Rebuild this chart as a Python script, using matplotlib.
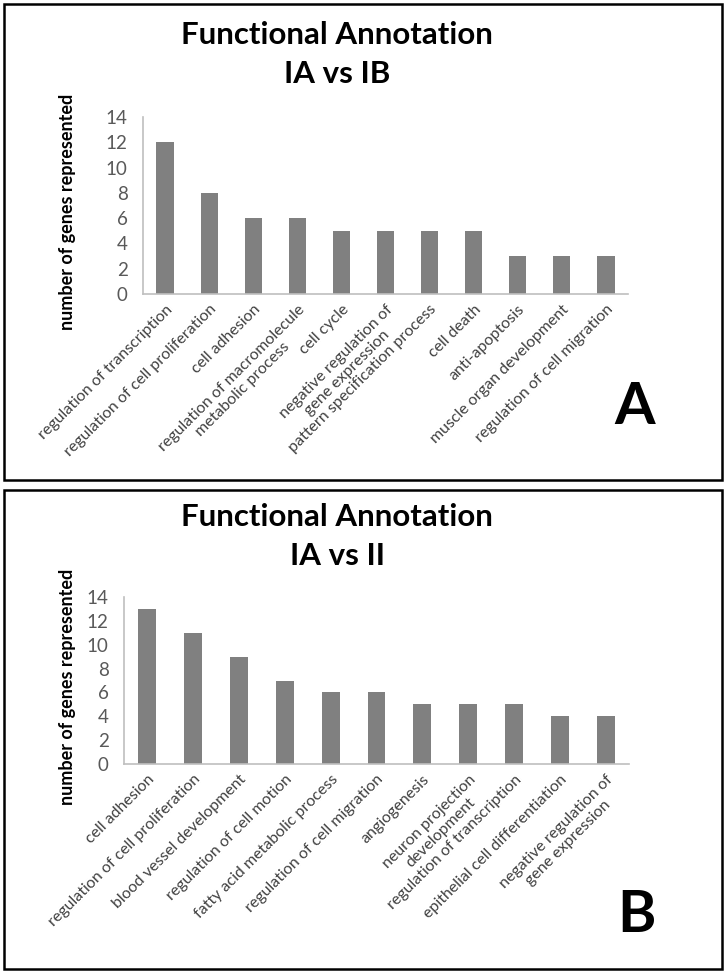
import matplotlib
matplotlib.use("Agg")
import matplotlib.pyplot as plt
from matplotlib.patches import Rectangle

plt.rcParams['font.family'] = ['Lato', 'DejaVu Sans']

# panel A: IA vs IB
cats_a = ["regulation of transcription", "regulation of cell proliferation",
          "cell adhesion", "regulation of macromolecule\nmetabolic process",
          "cell cycle", "negative regulation of\ngene expression",
          "pattern specification process", "cell death", "anti-apoptosis",
          "muscle organ development", "regulation of cell migration"]
vals_a = [12, 8, 6, 6, 5, 5, 5, 5, 3, 3, 3]

# panel B: IA vs II
cats_b = ["cell adhesion", "regulation of cell proliferation",
          "blood vessel development", "regulation of cell motion",
          "fatty acid metabolic process", "regulation of cell migration",
          "angiogenesis", "neuron projection\ndevelopment",
          "regulation of transcription", "epithelial cell differentiation",
          "negative regulation of\ngene expression"]
vals_b = [13, 11, 9, 7, 6, 6, 5, 5, 5, 4, 4]

yticks = [0, 2, 4, 6, 8, 10, 12, 14]

W, H = 727, 975
fig = plt.figure(figsize=(W / 100, H / 100), dpi=100)


def px(x, y):
    return x / W, 1 - y / H


def draw_panel(ax, cats, vals):
    x = range(len(cats))
    ax.bar(x, vals, width=0.39, color="#808080")
    ax.set_xlim(-0.5, len(cats) - 0.5)
    ax.set_ylim(0, 14)
    ax.set_yticks(yticks)
    ax.set_xticks(list(x))
    ax.set_xticklabels(cats, rotation=45, ha="right", va="top",
                       rotation_mode="anchor", multialignment="center",
                       fontsize=11.5, color="#404040")
    ax.tick_params(axis="y", length=0, pad=11, labelsize=13.5, labelcolor="#595959")
    ax.tick_params(axis="x", length=0, pad=6)
    for s in ["top", "right"]:
        ax.spines[s].set_visible(False)
    for s in ["left", "bottom"]:
        ax.spines[s].set_color("#bfbfbf")
        ax.spines[s].set_linewidth(1.2)


# axes placement
x0, y0 = px(143, 294)
axA = fig.add_axes([x0, y0, 485 / W, (294 - 117) / H])
draw_panel(axA, cats_a, vals_a)

x0, y0 = px(124, 764)
axB = fig.add_axes([x0, y0, 505 / W, (764 - 597) / H])
draw_panel(axB, cats_b, vals_b)

# borders
for top, bot in [(4, 480), (490, 969)]:
    fig.patches.append(Rectangle(px(4, bot), 718 / W, (bot - top) / H,
                                 transform=fig.transFigure, fill=False,
                                 edgecolor="black", linewidth=1.8))

# titles
for y1, y2, sub in [(35, 74, "IA vs IB"), (517, 556, "IA vs II")]:
    fig.text(*px(337, y1), "Functional Annotation", ha="center", va="center",
             fontsize=22.5, fontweight="bold")
    fig.text(*px(337, y2), sub, ha="center", va="center",
             fontsize=22.5, fontweight="bold")

# y labels
for yc in [212, 687]:
    fig.text(*px(68, yc), "number of genes represented", rotation=90,
             ha="center", va="center", fontsize=13, fontweight="bold")

# panel letters
fig.text(*px(635, 408), "A", ha="center", va="center", fontsize=42, fontweight="bold")
fig.text(*px(636, 915), "B", ha="center", va="center", fontsize=42, fontweight="bold")

fig.savefig("out.png", dpi=100)
